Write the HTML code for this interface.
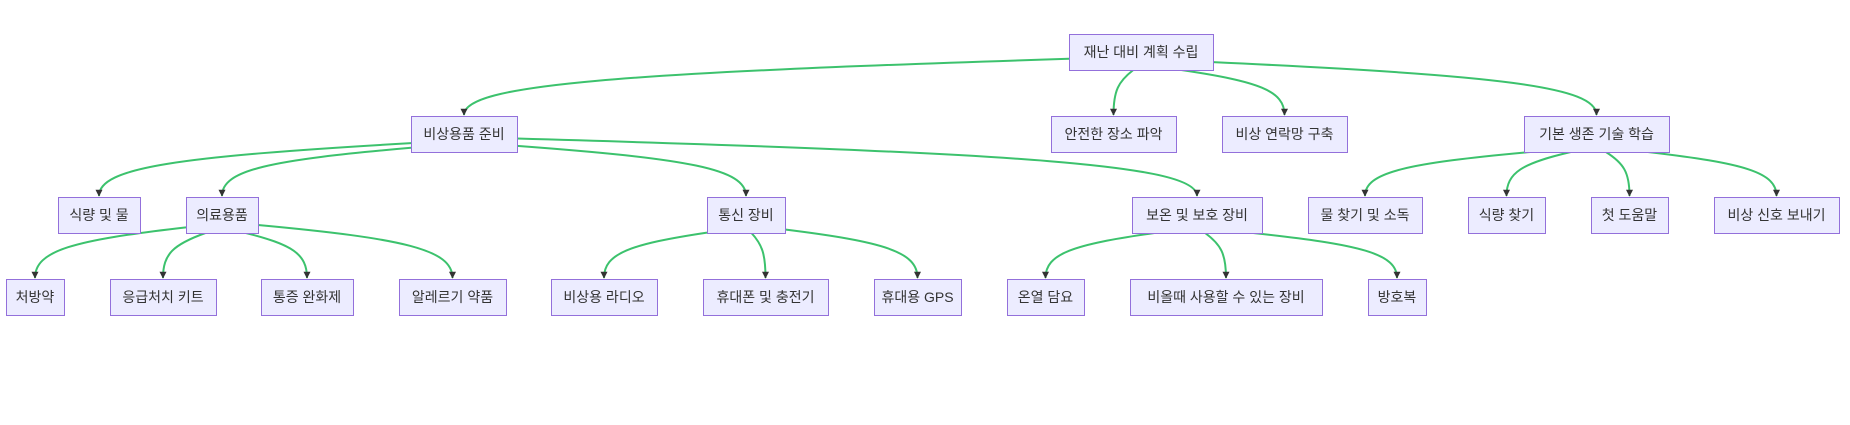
<!DOCTYPE html>
<html><head><meta charset="utf-8">
<style>
html,body{margin:0;padding:0;background:#fff;width:1850px;height:425px;overflow:hidden}
svg text{font-family:"Liberation Sans","Noto Sans CJK KR","NanumGothic",sans-serif;font-size:14px;fill:#333}
</style></head>
<body>
<svg id="s" width="1850" height="425" xmlns="http://www.w3.org/2000/svg">
<defs><marker id="a" viewBox="0 0 10 10" refX="9" refY="5" markerUnits="userSpaceOnUse" markerWidth="7" markerHeight="7" orient="auto"><path d="M0,0L10,5L0,10z" fill="#333"/></marker></defs>
<g id="e"></g><g id="n"></g>
</svg>
<script>
var R=[34,70],R2=[116,152],R3=[197,233],R4=[279,315];
var N={
root:[1069,1213,R,"재난 대비 계획 수립"],
sup:[411,517,R2,"비상용품 준비"],
safe:[1051,1176,R2,"안전한 장소 파악"],
con:[1222,1347,R2,"비상 연락망 구축"],
sk:[1524,1669,R2,"기본 생존 기술 학습"],
food:[58,140,R3,"식량 및 물"],
med:[186,258,R3,"의료용품"],
com:[707,785,R3,"통신 장비"],
warm:[1132,1262,R3,"보온 및 보호 장비"],
wat:[1308,1422,R3,"물 찾기 및 소독"],
ff:[1468,1545,R3,"식량 찾기"],
fa:[1591,1668,R3,"첫 도움말"],
sig:[1714,1839,R3,"비상 신호 보내기"],
rx:[6,64,R4,"처방약"],
kit:[110,216,R4,"응급처치 키트"],
pain:[261,353,R4,"통증 완화제"],
al:[399,506,R4,"알레르기 약품"],
rad:[551,657,R4,"비상용 라디오"],
ph:[703,828,R4,"휴대폰 및 충전기"],
gps:[874,961,R4,"휴대용 GPS"],
bl:[1007,1084,R4,"온열 담요"],
rain:[1130,1322,R4,"비올때 사용할 수 있는 장비"],
pro:[1368,1426,R4,"방호복"]};
var E=[["root","sup"],["root","safe"],["root","con"],["root","sk"],
["sup","food"],["sup","med"],["sup","com"],["sup","warm"],
["med","rx"],["med","kit"],["med","pain"],["med","al"],
["com","rad"],["com","ph"],["com","gps"],
["warm","bl"],["warm","rain"],["warm","pro"],
["sk","wat"],["sk","ff"],["sk","fa"],["sk","sig"]];
var ns="http://www.w3.org/2000/svg",g=document.getElementById("n"),ge=document.getElementById("e");
function el(t,a,p){var x=document.createElementNS(ns,t);for(var k in a)x.setAttribute(k,a[k]);p.appendChild(x);return x}
for(var k in N){var d=N[k];
el("rect",{x:d[0]+.5,y:d[2][0]+.5,width:d[1]-d[0],height:d[2][1]-d[2][0],fill:"#ECECFF",stroke:"#9370DB","stroke-width":1},g);
var t=el("text",{x:(d[0]+d[1])/2,y:(d[2][0]+d[2][1])/2+5,"text-anchor":"middle"},g);t.textContent=d[3];}
E.forEach(function(p){var a=N[p[0]],b=N[p[1]];
var cx=(a[0]+a[1])/2,cy=(a[2][0]+a[2][1])/2,tx=(b[0]+b[1])/2,ty=b[2][0];
var dx=tx-cx,dy=ty-cy,hw=(a[1]-a[0])/2,hh=(a[2][1]-a[2][0])/2;
var s=Math.min(hw/Math.abs(dx||1e-6),hh/Math.abs(dy));
var sx=cx+dx*s,sy=cy+dy*s;
var c1x=sx+(tx-sx)*0.75,c1y=sy+(ty-sy)*0.25;
var d="M"+sx+","+sy+" C"+c1x+","+c1y+" "+tx+","+(ty-(ty-sy)*0.55)+" "+tx+","+(ty-1);
el("path",{d:d,fill:"none",stroke:"#3cc26d","stroke-width":2,"marker-end":"url(#a)"},ge);});
</script>
</body></html>
